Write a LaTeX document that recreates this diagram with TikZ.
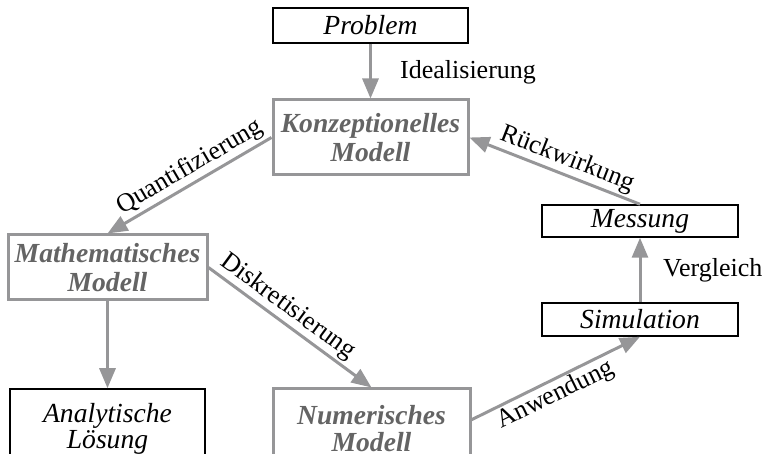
\documentclass[tikz,border=0pt]{standalone}
\usepackage{fontspec}
\setmainfont{Liberation Serif}
\usetikzlibrary{arrows.meta}
\definecolor{lgray}{RGB}{150,150,152}
\definecolor{tgray}{RGB}{100,100,100}
\tikzset{
  plainbox/.style={draw=black, line width=1.5pt, inner sep=0pt, align=center,
    font=\fontsize{27.6}{28}\selectfont\itshape},
  modelbox/.style={draw=lgray, line width=3pt, inner sep=0pt, align=center, text=tgray,
    font=\fontsize{27.6}{29.5}\selectfont\bfseries\itshape},
  conn/.style={draw=lgray, line width=3pt, -{Triangle[length=20pt,width=16pt]}},
  lbl/.style={font=\fontsize{26}{28}\selectfont, inner sep=2pt, text=black}
}
\begin{document}
\begin{tikzpicture}[x=1pt,y=-1pt]
\useasboundingbox (0,0) rectangle (764,454);
\node[plainbox, minimum width=195pt, minimum height=35pt] (prob) at (370.5,25.5) {Problem};
\node[modelbox, minimum width=195pt, minimum height=75pt] (konz) at (370.5,137.5) {Konzeptionelles\\Modell};
\node[modelbox, minimum width=199pt, minimum height=65pt] (math) at (107.5,267.5) {Mathematisches\\Modell};
\node[plainbox, minimum width=195pt, minimum height=79pt] (anal) at (107.5,428.5) {Analytische\\[-2pt]Lösung};
\node[modelbox, minimum width=197pt, minimum height=79pt] (num) at (371.5,428.5) {Numerisches\\[-2pt]Modell};
\node[plainbox, minimum width=196pt, minimum height=32pt] (mess) at (640,221) {Messung};
\node[plainbox, minimum width=196pt, minimum height=33pt] (sim) at (640,319.5) {Simulation};

\draw[conn] (prob.south) -- (konz.north);
\node[lbl, anchor=west] (ideal) at (398,72) {Idealisierung};
\draw[conn] (konz.west) -- node[lbl, pos=0.45, sloped, above] (quant) {Quantifizierung} (math.north);
\draw[conn] (math.east) -- node[lbl, pos=0.43, sloped, above] (disk) {Diskretisierung} (num.north);
\draw[conn] (math.south) -- (anal.north);
\draw[conn] (num.5) -- node[lbl, pos=0.46, sloped, below] (anw) {Anwendung} (sim.south);
\draw[conn] (sim.north) -- (mess.south);
\node[lbl, anchor=west] (vergl) at (661,270) {Vergleich};
\draw[conn] (mess.north) -- node[lbl, pos=0.46, sloped, above] (rueck) {Rückwirkung} (konz.east);
\end{tikzpicture}
\end{document}
